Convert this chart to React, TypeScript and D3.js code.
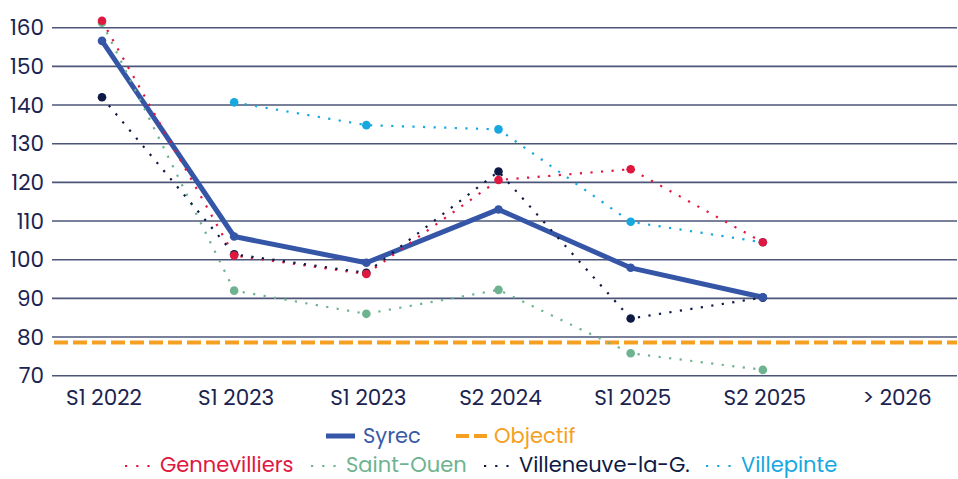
import React from "react";
import * as d3 from "d3";

const categories = ["S1 2022", "S1 2023", "S1 2023 ", "S2 2024", "S1 2025", "S2 2025", "> 2026"];
const yTicks = [70, 80, 90, 100, 110, 120, 130, 140, 150, 160];
const syrec = [156.6, 106, 99.2, 113, 97.9, 90.3];
const gennevilliers = [161.8, 101.1, 96.3, 120.6, 123.4, 104.5];
const saintOuen = [161.3, 92, 86, 92.2, 75.8, 71.5];
const villeneuve = [142, 101.4, 96.6, 122.8, 84.8, 90.2];
const villepinte: (number | null)[] = [null, 140.7, 134.8, 133.7, 109.8, 104.5];
const objectif = 78.6;

const W = 958, H = 479;
const FONT = "Poppins, 'Open Sans', sans-serif";
const NAVY = "#1b2350";

const dotted = [
  { name: "Gennevilliers", values: gennevilliers as (number | null)[], color: "#e0173f" },
  { name: "Saint-Ouen", values: saintOuen as (number | null)[], color: "#6db38f" },
  { name: "Villeneuve-la-G.", values: villeneuve as (number | null)[], color: "#0e1a45" },
  { name: "Villepinte", values: villepinte, color: "#16a8df" },
];
const SYREC_COLOR = "#3555a7";
const OBJ_COLOR = "#f5a020";

export default function App() {
  const x = d3.scalePoint<string>().domain(categories).range([102, 895]);
  const y = d3.scaleLinear().domain([70, 160]).range([375.7, 27.7]);
  const line = d3
    .line<number | null>()
    .defined((d) => d != null)
    .x((_, i) => x(categories[i])!)
    .y((d) => y(d as number));

  const legendRow2 = [
    { name: "Gennevilliers", color: "#e0173f", x: 125 },
    { name: "Saint-Ouen", color: "#6db38f", x: 311 },
    { name: "Villeneuve-la-G.", color: "#0e1a45", x: 484 },
    { name: "Villepinte", color: "#16a8df", x: 706 },
  ];

  return (
    <svg width={W} height={H} style={{ position: "absolute", left: 0, top: 0, background: "#fff" }} fontFamily={FONT}>
      {/* grid */}
      {yTicks.map((t) => (
        <g key={t}>
          <line x1={52} x2={957} y1={y(t)} y2={y(t)} stroke="#4d5679" strokeWidth={1.6} />
          <text x={44} y={y(t) + 7.5} textAnchor="end" fontSize={21.5} fill={NAVY}>
            {t}
          </text>
        </g>
      ))}
      {categories.map((c) => (
        <text key={c} x={x(c)! + 2} y={405} textAnchor="middle" fontSize={21.5} fill={NAVY}>
          {c.trim()}
        </text>
      ))}
      {/* objectif */}
      <line x1={54} x2={957} y1={y(objectif)} y2={y(objectif)} stroke={OBJ_COLOR} strokeWidth={4} strokeDasharray="14,5" />
      {/* syrec line */}
      <path d={line(syrec)!} fill="none" stroke={SYREC_COLOR} strokeWidth={5} strokeLinejoin="round" />
      {/* dotted lines */}
      {dotted.map((s) => (
        <path key={s.name} d={line(s.values)!} fill="none" stroke={s.color} strokeWidth={2.2} strokeDasharray="2.2,8.4" />
      ))}
      {/* points */}
      {[...dotted].reverse().map((s) =>
        s.values.map((v, i) =>
          v == null ? null : <circle key={s.name + i} cx={x(categories[i])} cy={y(v)} r={4.3} fill={s.color} />
        )
      )}
      {syrec.map((v, i) => (
        <circle key={"sy" + i} cx={x(categories[i])} cy={y(v)} r={4.3} fill={SYREC_COLOR} />
      ))}
      {/* legend row 1 */}
      <line x1={326} x2={355} y1={436} y2={436} stroke={SYREC_COLOR} strokeWidth={5} />
      <text x={363} y={443} fontSize={21} fill="#3a5aa8">Syrec</text>
      <line x1={456} x2={487} y1={436} y2={436} stroke={OBJ_COLOR} strokeWidth={4} strokeDasharray="13,5" />
      <text x={494} y={443} fontSize={21} fill={OBJ_COLOR}>Objectif</text>
      {/* legend row 2 */}
      {legendRow2.map((l) => (
        <g key={l.name}>
          <line x1={l.x} x2={l.x + 25} y1={466} y2={466} stroke={l.color} strokeWidth={2.2} strokeDasharray="2.2,9" />
          <text x={l.x + 35} y={472} fontSize={21} fill={l.color}>{l.name}</text>
        </g>
      ))}
    </svg>
  );
}
